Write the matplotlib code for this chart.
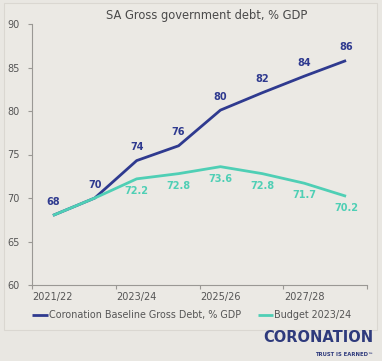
import matplotlib
matplotlib.use("Agg")
import matplotlib.pyplot as plt
from matplotlib.patches import Rectangle

categories = ["2021/22", "2022/23", "2023/24", "2024/25", "2025/26", "2026/27", "2027/28", "2028/29"]
baseline = [68, 70, 74.3, 76, 80.1, 82.1, 84, 85.8]
budget = [68, 70, 72.2, 72.8, 73.6, 72.8, 71.7, 70.2]
baseline_labels = ["68", "70", "74", "76", "80", "82", "84", "86"]
budget_labels = [None, None, "72.2", "72.8", "73.6", "72.8", "71.7", "70.2"]
y_ticks = [60, 65, 70, 75, 80, 85, 90]

BLUE = "#2f3a8f"
TEAL = "#4fcfb5"
BG = "#e9e7e2"
GRAY = "#9a9894"
TXT = "#555555"

W, H = 382, 361
fig = plt.figure(figsize=(W / 100, H / 100), dpi=100, facecolor=BG)
fig.patches.append(Rectangle((4 / W, 1 - 330 / H), (377 - 4) / W, (330 - 3) / H,
                             transform=fig.transFigure, facecolor="#ebe9e4",
                             edgecolor="#dad7d1", linewidth=0.8, zorder=-5))

ax = fig.add_axes([32 / W, 1 - 285 / H, (367 - 32) / W, (285 - 24) / H], zorder=2)
ax.set_facecolor("none")
x = list(range(len(categories)))
ax.plot(x, baseline, color=BLUE, lw=2.0, solid_capstyle="butt", zorder=3,
        label="Coronation Baseline Gross Debt, % GDP")
ax.plot(x, budget, color=TEAL, lw=2.0, solid_capstyle="butt", zorder=4,
        label="Budget 2023/24")

for xi, v, lab in zip(x, baseline, baseline_labels):
    ax.annotate(lab, (xi, v), xytext=(0, 6), textcoords="offset points",
                ha="center", va="bottom", color=BLUE, fontsize=7, fontweight="bold")
for xi, v, lab in zip(x, budget, budget_labels):
    if lab:
        ax.annotate(lab, (xi, v), xytext=(0, -5), textcoords="offset points",
                    ha="center", va="top", color=TEAL, fontsize=7, fontweight="bold")

ax.set_xlim(-0.5, len(categories) - 0.5)
ax.set_ylim(60, 90)
ax.set_yticks(y_ticks)
ax.set_yticklabels([str(t) for t in y_ticks], color=TXT, fontsize=7)
ax.set_xticks([-0.5, 1.5, 3.5, 5.5, 7.5])
ax.set_xticklabels([])
ax.set_xticks(x[::2], minor=True)
ax.set_xticklabels(categories[::2], minor=True, color=TXT, fontsize=7)
ax.tick_params(axis="x", which="minor", length=0, pad=5)
ax.tick_params(axis="both", which="major", length=3, color=GRAY, width=0.8)
ax.tick_params(axis="y", pad=6)
for s in ["top", "right"]:
    ax.spines[s].set_visible(False)
for s in ["left", "bottom"]:
    ax.spines[s].set_color(GRAY)
    ax.spines[s].set_linewidth(0.8)

fig.text(207 / W, 1 - 15 / H, "SA Gross government debt, % GDP", ha="center", va="center",
         color="#4a4a4a", fontsize=8.3)

leg = fig.legend(loc="center", bbox_to_anchor=(192 / W, 1 - 315 / H), ncol=2, frameon=False,
                 fontsize=6.9, handlelength=1.6, handletextpad=0.1, columnspacing=1.8)
for t in leg.get_texts():
    t.set_color(TXT)

fig.text(373 / W, 1 - 338 / H, "CORONATION", ha="right", va="center", color="#2e3a7c",
         fontsize=10.5, fontweight="bold")
fig.text(373 / W, 1 - 354 / H, "TRUST IS EARNED\u2122", ha="right", va="center",
         color="#2e3a7c", fontsize=3.8, fontweight="bold")

fig.savefig("out.png", dpi=100, facecolor=BG)
